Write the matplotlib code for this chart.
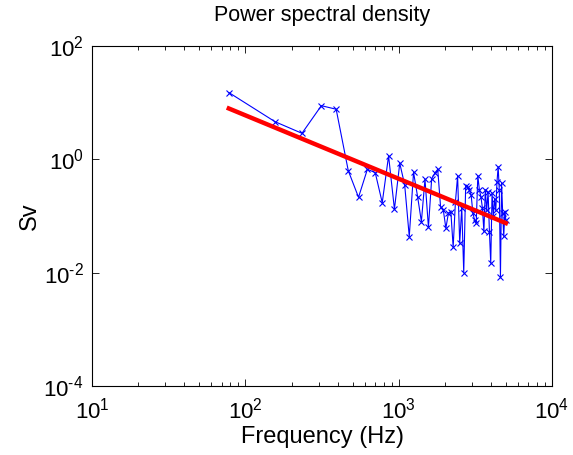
import matplotlib
matplotlib.use("Agg")
import matplotlib.pyplot as plt
from matplotlib.ticker import LogLocator, FixedLocator, NullLocator

plt.rcParams['font.family'] = ['Liberation Sans', 'DejaVu Sans']
plt.rcParams['mathtext.fontset'] = 'custom'
plt.rcParams['mathtext.rm'] = 'Liberation Sans'
plt.rcParams['mathtext.it'] = 'Liberation Sans'

# frequency bins (Hz)
freq = [78, 156, 234, 313, 391, 469, 547, 625, 703, 781, 859, 938, 1016,
        1094, 1172, 1250, 1328, 1406, 1484, 1563, 1641, 1719, 1797, 1875,
        1953, 2031, 2109, 2188, 2266, 2344, 2422, 2500, 2578, 2656, 2734,
        2813, 2891, 2969, 3047, 3125, 3203, 3281, 3359, 3438, 3516, 3594,
        3672, 3750, 3828, 3906, 3984, 4063, 4141, 4219, 4297, 4375, 4453,
        4531, 4609, 4688, 4766, 4844, 4922, 5000]
# power spectral density
sv = [15.1, 4.62, 2.88, 8.85, 7.66, 0.631, 0.214, 0.668, 0.583, 0.172,
      1.15, 0.132, 0.853, 0.355, 0.0434, 0.592, 0.220, 0.0796, 0.446, 0.0631,
      0.457, 0.569, 0.668, 0.147, 0.129, 0.0610, 0.112, 0.120, 0.0282, 0.178,
      0.509, 0.0331, 0.141, 0.0100, 0.339, 0.331, 0.288, 0.234, 0.112, 0.0851,
      0.0741, 0.513, 0.288, 0.219, 0.138, 0.0537, 0.288, 0.126, 0.269, 0.0525,
      0.0148, 0.251, 0.100, 0.200, 0.126, 0.398, 0.741, 0.282, 0.0085, 0.380,
      0.112, 0.0437, 0.120, 0.0851]
# power-law fit (end points)
fit_freq = [78, 5000]
fit_sv = [7.9, 0.075]

xticks = [10, 100, 1000, 10000]
yticks = [1e-4, 1e-2, 1, 1e2]
xlabels = [r'$10^{1}$', r'$10^{2}$', r'$10^{3}$', r'$10^{4}$']
ylabels = [r'$10^{\text{-}4}$', r'$10^{\text{-}2}$', r'$10^{0}$', r'$10^{2}$']

fig = plt.figure(figsize=(5.73, 4.55), dpi=100)
ax = fig.add_axes([0.1606, 0.1516, 0.8028, 0.7473])

ax.loglog(freq, sv, '-x', color='blue', linewidth=0.8, markersize=4,
          markeredgewidth=0.8)
ax.loglog(fit_freq, fit_sv, '-', color='red', linewidth=3.2)

ax.set_xlim(10, 1e4)
ax.set_ylim(1e-4, 1e2)

ax.xaxis.set_major_locator(FixedLocator(xticks))
ax.xaxis.set_minor_locator(LogLocator(base=10, subs=range(2, 10)))
ax.yaxis.set_major_locator(FixedLocator(yticks))
ax.yaxis.set_minor_locator(NullLocator())
ax.set_xticklabels(xlabels)
ax.set_yticklabels(ylabels)

ax.tick_params(which='both', direction='in', top=True, right=True,
               labelsize=16, width=0.6)
ax.tick_params(axis='x', which='major', length=5, pad=8)
ax.tick_params(axis='y', which='major', length=5, pad=6)
ax.tick_params(which='minor', length=3)
for s in ax.spines.values():
    s.set_linewidth(0.8)

ax.set_title('Power spectral density', fontsize=15.5, pad=18)
ax.set_xlabel('Frequency (Hz)', fontsize=17, labelpad=2)
ax.set_ylabel('Sv', fontsize=17, labelpad=2)

fig.savefig('out.png', dpi=100)
